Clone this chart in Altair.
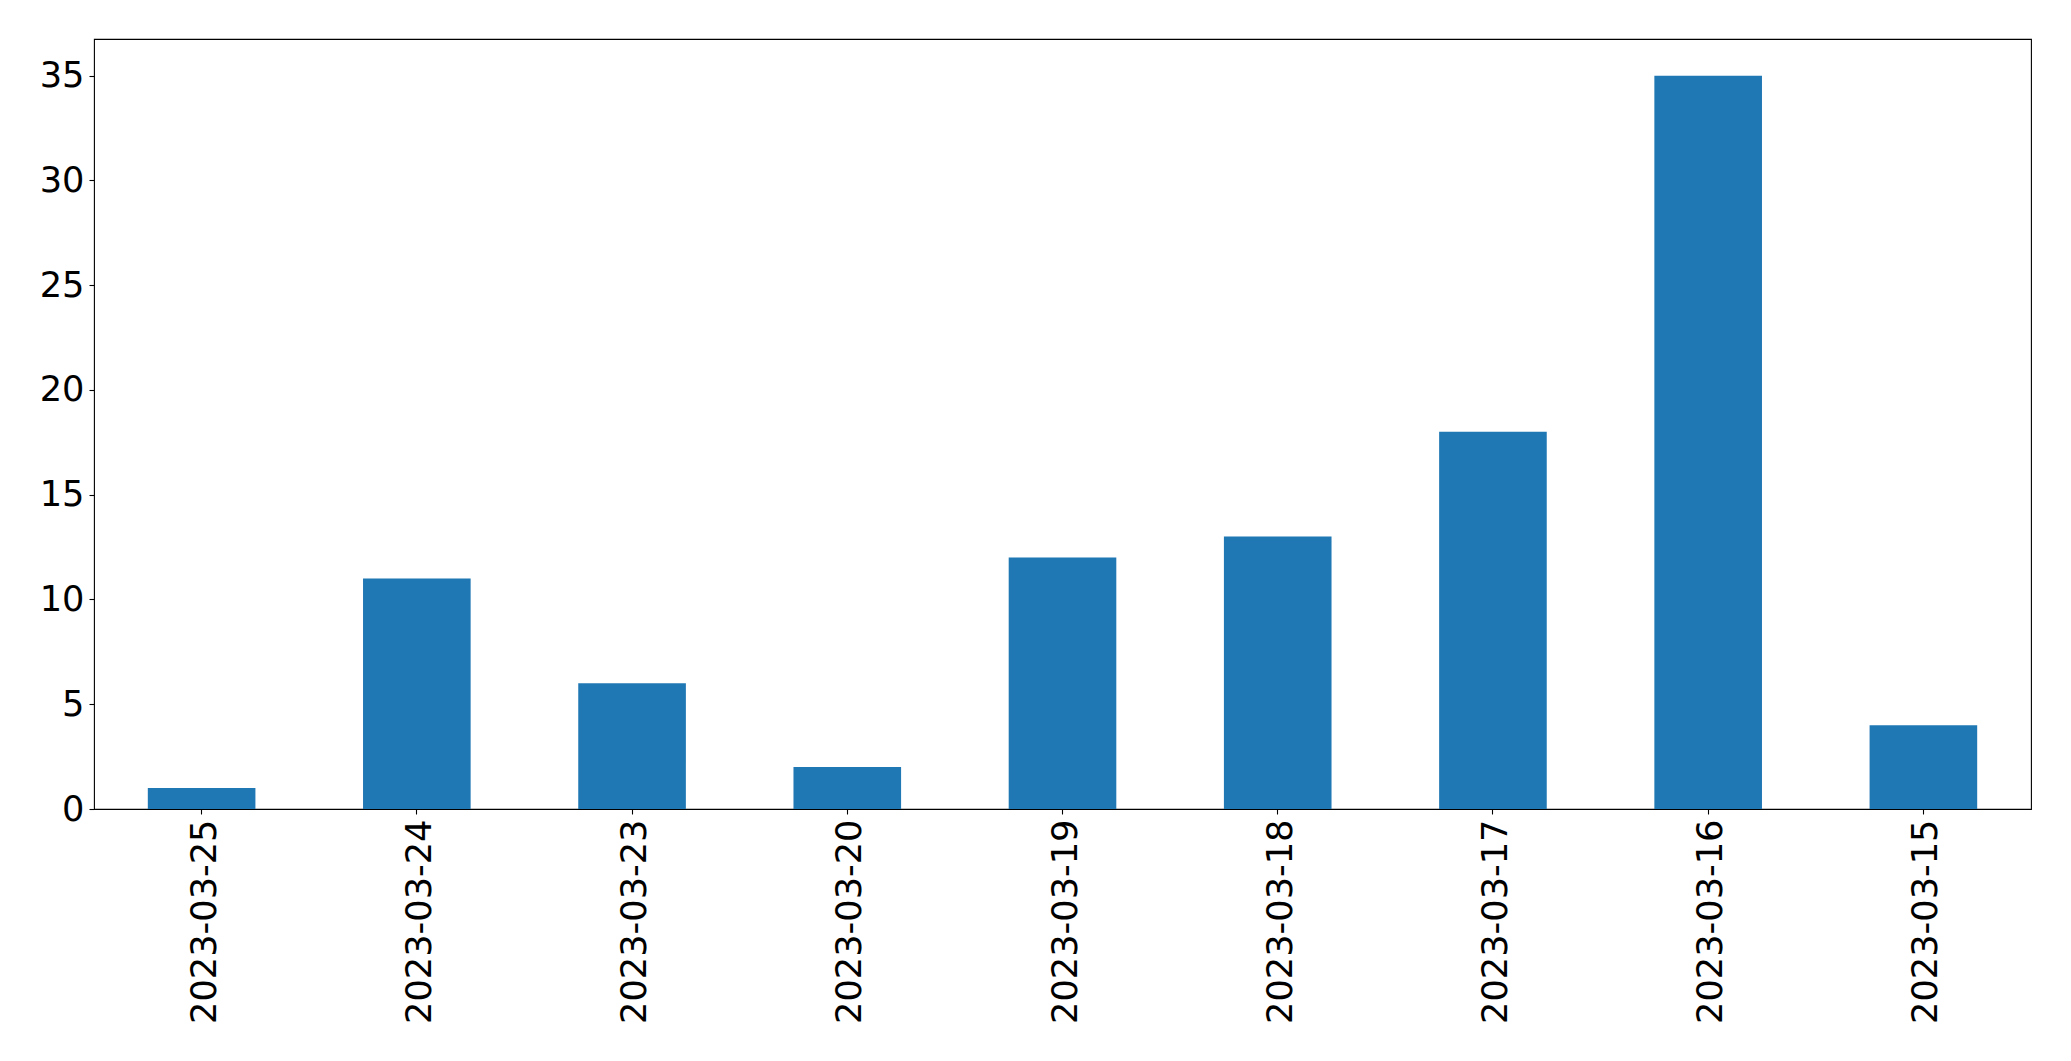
import altair as alt
import pandas as pd

dates = ["2023-03-25", "2023-03-24", "2023-03-23", "2023-03-20", "2023-03-19",
         "2023-03-18", "2023-03-17", "2023-03-16", "2023-03-15"]
counts = [1, 11, 6, 2, 12, 13, 18, 35, 4]

df = pd.DataFrame({"date": dates, "count": counts})

chart = alt.Chart(df).mark_bar(color="#1f77b4").encode(
    x=alt.X("date:N", sort=dates, title=None,
            scale=alt.Scale(paddingInner=0.5, paddingOuter=0.25),
            axis=alt.Axis(labelAngle=-90, labelFontSize=35.2, labelFont="DejaVu Sans",
                          labelColor="black", tickColor="black", tickSize=5, tickWidth=1.1,
                          labelPadding=5, labelLimit=0, labelOffset=3,
                          domain=False, grid=False)),
    y=alt.Y("count:Q", title=None,
            scale=alt.Scale(domain=[0, 36.75], nice=False, zero=True),
            axis=alt.Axis(values=[0, 5, 10, 15, 20, 25, 30, 35], labelFontSize=35.2,
                          labelFont="DejaVu Sans", labelColor="black", tickColor="black",
                          tickSize=5, tickWidth=1.1, labelPadding=5, domain=False, grid=False)),
).properties(
    width=1937, height=770,
    autosize=alt.AutoSizeParams(type="none"),
    padding={"left": 86, "top": 31, "right": 30, "bottom": 240},
).configure_view(
    stroke="black", strokeWidth=1.1
)

chart.save("out.html", embed_options={"renderer": "svg", "actions": False})
